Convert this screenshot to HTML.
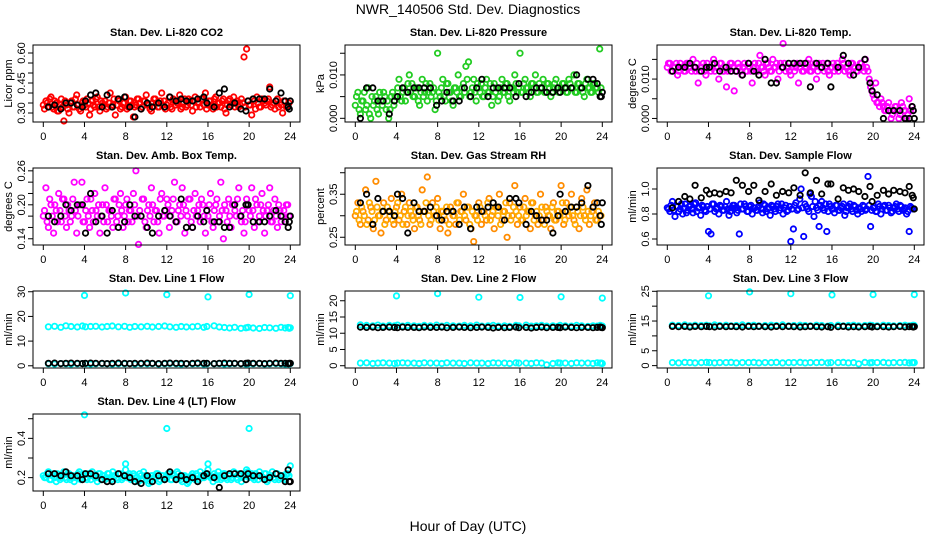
<!DOCTYPE html>
<html><head><meta charset="utf-8">
<style>
html,body{margin:0;padding:0;background:#fff;}
svg{display:block;font-family:"Liberation Sans",sans-serif;}
</style></head>
<body>
<svg id="fig" width="936" height="540" viewBox="0 0 936 540">
<text x="468" y="14" text-anchor="middle" font-size="14">NWR_140506  Std. Dev. Diagnostics</text>
<text x="468" y="531" text-anchor="middle" font-size="14">Hour of Day (UTC)</text>
</svg>
<script>
const hoursC=[0,0.25,0.5,0.75,1,1.25,1.5,1.75,2,2.25,2.5,2.75,3,3.25,3.5,3.75,4,4.25,4.5,4.75,5,5.25,5.5,5.75,6,6.25,6.5,6.75,7,7.25,7.5,7.75,8,8.25,8.5,8.75,9,9.25,9.5,9.75,10,10.25,10.5,10.75,11,11.25,11.5,11.75,12,12.25,12.5,12.75,13,13.25,13.5,13.75,14,14.25,14.5,14.75,15,15.25,15.5,15.75,16,16.25,16.5,16.75,17,17.25,17.5,17.75,18,18.25,18.5,18.75,19,19.25,19.5,19.75,20,20.25,20.5,20.75,21,21.25,21.5,21.75,22,22.25,22.5,22.75,23,23.25,23.5,23.75];
const hoursC2=[0.12,0.37,0.62,0.87,1.12,1.37,1.62,1.87,2.12,2.37,2.62,2.87,3.12,3.37,3.62,3.87,4.12,4.37,4.62,4.87,5.12,5.37,5.62,5.87,6.12,6.37,6.62,6.87,7.12,7.37,7.62,7.87,8.12,8.37,8.62,8.87,9.12,9.37,9.62,9.87,10.12,10.37,10.62,10.87,11.12,11.37,11.62,11.87,12.12,12.37,12.62,12.87,13.12,13.37,13.62,13.87,14.12,14.37,14.62,14.87,15.12,15.37,15.62,15.87,16.12,16.37,16.62,16.87,17.12,17.37,17.62,17.87,18.12,18.37,18.62,18.87,19.12,19.37,19.62,19.87,20.12,20.37,20.62,20.87,21.12,21.37,21.62,21.87,22.12,22.37,22.62,22.87,23.12,23.37,23.62,23.87];
const hoursK=[0.5,1.1,1.7,2.2,2.7,3.3,3.8,4.1,4.6,5.1,5.7,6.2,6.7,7.3,7.9,8.4,8.9,9.5,10.1,10.6,11.2,11.8,12.3,12.9,13.4,13.9,14.5,15.0,15.6,15.9,16.6,17.1,17.6,18.1,18.6,19.2,19.7,19.9,20.4,21.0,21.5,22.0,22.6,23.1,23.5,23.8,23.9,24.0];
const hoursOut=[4,8,12,16,20,24];
const hoursOut4=[4,12,20,8,16,24];

const co2Red=[0.34,0.36,0.33,0.38,0.32,0.35,0.31,0.37,0.26,0.34,0.30,0.36,0.33,0.39,0.32,0.35,0.34,0.37,0.29,0.36,0.33,0.38,0.31,0.35,0.36,0.33,0.40,0.34,0.29,0.37,0.32,0.35,0.38,0.33,0.36,0.28,0.34,0.37,0.32,0.36,0.39,0.34,0.31,0.37,0.35,0.33,0.40,0.36,0.34,0.38,0.32,0.36,0.35,0.39,0.33,0.37,0.34,0.36,0.31,0.38,0.35,0.33,0.37,0.40,0.34,0.36,0.32,0.38,0.35,0.33,0.37,0.30,0.36,0.34,0.38,0.35,0.33,0.37,0.58,0.62,0.34,0.29,0.36,0.38,0.33,0.37,0.35,0.36,0.43,0.34,0.32,0.37,0.35,0.30,0.36,0.33];
const co2Red2=[0.32,0.35,0.37,0.33,0.36,0.31,0.34,0.33,0.36,0.32,0.35,0.33,0.37,0.34,0.31,0.36,0.33,0.35,0.32,0.34,0.37,0.33,0.36,0.34,0.32,0.35,0.33,0.37,0.34,0.36,0.33,0.35,0.32,0.36,0.34,0.33,0.37,0.35,0.33,0.36,0.34,0.32,0.35,0.37,0.33,0.36,0.34,0.32,0.35,0.33,0.37,0.34,0.36,0.32,0.35,0.33,0.37,0.34,0.36,0.33,0.35,0.37,0.34,0.32,0.36,0.34,0.37,0.33,0.35,0.36,0.32,0.34,0.37,0.35,0.33,0.36,0.34,0.35,0.33,0.36,0.34,0.37,0.32,0.35,0.33,0.36,0.34,0.37,0.33,0.35,0.36,0.33,0.34,0.36,0.33,0.35];
const co2Black=[0.33,0.34,0.32,0.35,0.35,0.34,0.33,0.36,0.39,0.40,0.33,0.39,0.33,0.37,0.38,0.33,0.28,0.32,0.35,0.33,0.35,0.33,0.38,0.36,0.37,0.36,0.36,0.37,0.38,0.35,0.33,0.40,0.42,0.33,0.35,0.32,0.31,0.36,0.37,0.37,0.37,0.42,0.36,0.40,0.36,0.33,0.32,0.36];
const presGreen=[0.003,0.006,0.001,0.004,0.002,0.007,0.000,0.003,0.005,0.001,0.004,0.006,0.002,0.000,0.005,0.003,0.005,0.009,0.004,0.007,0.006,0.010,0.008,0.005,0.007,0.003,0.009,0.006,0.004,0.008,0.006,0.002,0.015,0.005,0.009,0.004,0.008,0.006,0.003,0.007,0.010,0.005,0.008,0.012,0.013,0.006,0.009,0.004,0.007,0.008,0.005,0.009,0.006,0.003,0.008,0.007,0.005,0.009,0.006,0.008,0.004,0.007,0.010,0.006,0.015,0.006,0.009,0.007,0.005,0.008,0.010,0.006,0.007,0.009,0.006,0.008,0.005,0.007,0.009,0.006,0.007,0.008,0.006,0.009,0.007,0.010,0.006,0.008,0.007,0.005,0.009,0.007,0.006,0.008,0.007,0.016];
const presGreen2=[0.005,0.002,0.004,0.006,0.003,0.001,0.005,0.004,0.002,0.006,0.003,0.005,0.004,0.002,0.006,0.005,0.007,0.005,0.006,0.004,0.008,0.006,0.005,0.007,0.004,0.006,0.005,0.008,0.006,0.005,0.007,0.004,0.006,0.007,0.005,0.008,0.006,0.004,0.007,0.006,0.005,0.007,0.006,0.009,0.005,0.007,0.006,0.008,0.006,0.005,0.007,0.006,0.008,0.005,0.006,0.004,0.007,0.006,0.008,0.005,0.007,0.006,0.008,0.007,0.006,0.008,0.007,0.006,0.008,0.007,0.006,0.008,0.007,0.006,0.008,0.007,0.006,0.008,0.007,0.006,0.008,0.007,0.006,0.008,0.007,0.006,0.008,0.007,0.006,0.008,0.007,0.006,0.008,0.007,0.006,0.007];
const presBlack=[0.000,0.007,0.007,0.004,0.004,0.001,0.004,0.005,0.007,0.006,0.007,0.007,0.007,0.007,0.003,0.004,0.006,0.004,0.004,0.007,0.005,0.007,0.009,0.005,0.007,0.007,0.007,0.007,0.005,0.008,0.005,0.006,0.007,0.007,0.006,0.006,0.007,0.006,0.007,0.007,0.010,0.007,0.009,0.009,0.008,0.005,0.005,0.006];
const tempMag=[0.013,0.014,0.012,0.013,0.011,0.014,0.013,0.012,0.014,0.013,0.015,0.012,0.009,0.013,0.014,0.011,0.013,0.012,0.015,0.013,0.010,0.014,0.012,0.008,0.013,0.014,0.007,0.012,0.013,0.011,0.014,0.012,0.013,0.009,0.014,0.012,0.016,0.013,0.011,0.014,0.012,0.015,0.013,0.010,0.014,0.019,0.012,0.013,0.011,0.014,0.013,0.009,0.014,0.012,0.013,0.015,0.012,0.013,0.010,0.014,0.013,0.012,0.014,0.011,0.013,0.012,0.014,0.013,0.015,0.012,0.013,0.011,0.014,0.013,0.012,0.014,0.013,0.015,0.012,0.008,0.006,0.009,0.004,0.005,0.003,0.002,0.004,0.000,0.002,0.003,0.000,0.004,0.002,0.000,0.005,0.003];
const tempMag2=[0.014,0.012,0.013,0.014,0.012,0.013,0.012,0.014,0.013,0.012,0.013,0.014,0.012,0.013,0.012,0.014,0.013,0.014,0.012,0.013,0.014,0.012,0.013,0.012,0.014,0.013,0.012,0.014,0.012,0.013,0.012,0.014,0.012,0.013,0.012,0.014,0.013,0.012,0.014,0.013,0.012,0.013,0.014,0.012,0.013,0.014,0.013,0.012,0.013,0.012,0.014,0.013,0.012,0.013,0.014,0.012,0.013,0.014,0.012,0.013,0.014,0.013,0.012,0.013,0.014,0.013,0.012,0.013,0.014,0.013,0.012,0.014,0.013,0.012,0.013,0.014,0.012,0.013,0.010,0.007,0.005,0.004,0.003,0.004,0.002,0.003,0.002,0.001,0.003,0.002,0.001,0.003,0.002,0.001,0.002,0.002];
const tempBlack=[0.012,0.013,0.013,0.014,0.013,0.012,0.013,0.013,0.014,0.012,0.013,0.012,0.012,0.011,0.014,0.012,0.011,0.015,0.009,0.009,0.013,0.014,0.014,0.014,0.014,0.008,0.014,0.013,0.014,0.008,0.013,0.016,0.014,0.011,0.013,0.015,0.009,0.007,0.006,0.000,0.002,0.002,0.002,0.000,0.000,0.003,0.002,0.000];
const boxMag=[0.18,0.23,0.16,0.20,0.15,0.19,0.22,0.17,0.21,0.16,0.19,0.18,0.24,0.15,0.20,0.24,0.17,0.21,0.16,0.19,0.22,0.18,0.15,0.20,0.23,0.17,0.19,0.16,0.21,0.18,0.22,0.16,0.20,0.17,0.19,0.22,0.26,0.13,0.18,0.21,0.16,0.20,0.23,0.17,0.19,0.15,0.22,0.18,0.21,0.16,0.19,0.24,0.17,0.20,0.23,0.15,0.18,0.21,0.16,0.22,0.19,0.17,0.20,0.15,0.18,0.22,0.16,0.20,0.17,0.24,0.14,0.19,0.21,0.16,0.20,0.18,0.23,0.17,0.15,0.21,0.19,0.23,0.16,0.20,0.18,0.22,0.15,0.19,0.23,0.17,0.21,0.16,0.19,0.18,0.17,0.20];
const boxMag2=[0.19,0.17,0.21,0.18,0.20,0.17,0.19,0.21,0.18,0.20,0.17,0.21,0.19,0.18,0.20,0.17,0.19,0.18,0.21,0.17,0.19,0.20,0.18,0.17,0.20,0.19,0.18,0.21,0.17,0.20,0.19,0.18,0.21,0.19,0.17,0.20,0.18,0.19,0.21,0.17,0.19,0.18,0.20,0.19,0.17,0.21,0.18,0.19,0.20,0.18,0.21,0.17,0.19,0.18,0.20,0.19,0.21,0.17,0.19,0.18,0.20,0.21,0.18,0.19,0.20,0.17,0.19,0.21,0.18,0.19,0.20,0.17,0.18,0.20,0.19,0.21,0.18,0.19,0.17,0.20,0.18,0.19,0.21,0.17,0.20,0.19,0.18,0.20,0.17,0.19,0.18,0.20,0.17,0.19,0.20,0.18];
const boxBlack=[0.18,0.17,0.18,0.20,0.19,0.20,0.20,0.15,0.22,0.17,0.18,0.15,0.19,0.16,0.17,0.20,0.18,0.18,0.16,0.15,0.18,0.19,0.18,0.17,0.21,0.16,0.16,0.18,0.17,0.19,0.17,0.17,0.16,0.16,0.20,0.18,0.20,0.20,0.17,0.17,0.17,0.18,0.19,0.18,0.17,0.16,0.17,0.18];
const rhOrange=[0.30,0.33,0.28,0.31,0.36,0.29,0.32,0.27,0.38,0.30,0.26,0.33,0.29,0.31,0.34,0.28,0.32,0.29,0.35,0.31,0.28,0.33,0.30,0.27,0.32,0.29,0.36,0.31,0.39,0.28,0.33,0.30,0.34,0.27,0.31,0.29,0.26,0.32,0.30,0.28,0.33,0.31,0.35,0.29,0.32,0.27,0.24,0.30,0.33,0.28,0.31,0.29,0.34,0.30,0.27,0.32,0.35,0.29,0.31,0.25,0.33,0.30,0.37,0.28,0.32,0.29,0.34,0.31,0.27,0.33,0.30,0.28,0.35,0.29,0.32,0.30,0.27,0.33,0.29,0.31,0.37,0.28,0.33,0.30,0.35,0.29,0.32,0.27,0.34,0.30,0.36,0.28,0.31,0.33,0.29,0.30];
const rhOrange2=[0.31,0.29,0.32,0.30,0.28,0.33,0.31,0.29,0.32,0.30,0.31,0.28,0.32,0.30,0.29,0.31,0.33,0.30,0.28,0.32,0.30,0.31,0.29,0.32,0.30,0.28,0.31,0.33,0.30,0.29,0.31,0.32,0.29,0.31,0.30,0.32,0.28,0.31,0.30,0.33,0.29,0.31,0.30,0.32,0.28,0.31,0.30,0.29,0.32,0.31,0.30,0.33,0.29,0.31,0.32,0.30,0.28,0.31,0.33,0.30,0.29,0.32,0.31,0.30,0.29,0.32,0.30,0.31,0.33,0.29,0.31,0.30,0.32,0.28,0.31,0.30,0.32,0.29,0.31,0.30,0.33,0.29,0.31,0.32,0.30,0.28,0.31,0.30,0.32,0.29,0.31,0.30,0.32,0.29,0.31,0.30];
const rhBlack=[0.33,0.35,0.28,0.34,0.31,0.31,0.30,0.35,0.34,0.26,0.33,0.31,0.31,0.32,0.30,0.29,0.31,0.31,0.28,0.32,0.27,0.32,0.31,0.32,0.33,0.32,0.29,0.34,0.34,0.33,0.28,0.31,0.30,0.29,0.29,0.26,0.30,0.35,0.31,0.32,0.32,0.33,0.37,0.32,0.33,0.30,0.28,0.33];
const flowBlue=[0.85,0.82,0.90,0.78,0.86,0.84,0.80,0.88,0.83,0.87,0.81,0.89,0.85,0.79,0.86,0.82,0.66,0.64,0.88,0.84,0.80,0.86,0.83,0.90,0.79,0.85,0.87,0.81,0.64,0.84,0.88,0.82,0.86,0.80,0.85,0.83,0.89,0.81,0.87,0.84,0.79,0.86,0.82,0.88,0.85,0.80,0.87,0.83,0.58,0.68,0.89,0.84,1.00,0.62,0.86,0.82,0.94,0.78,0.85,0.70,0.90,0.83,0.66,0.88,0.84,0.81,0.87,0.83,0.86,0.79,0.85,0.88,0.82,0.86,0.80,0.84,0.87,0.83,1.10,0.70,0.85,0.82,0.88,0.80,0.86,0.83,0.87,0.81,0.85,0.88,0.82,0.86,0.84,0.80,0.66,0.85];
const flowBlue2=[0.84,0.87,0.83,0.86,0.82,0.88,0.85,0.81,0.86,0.84,0.88,0.82,0.85,0.87,0.83,0.86,0.84,0.88,0.82,0.85,0.87,0.83,0.86,0.84,0.82,0.87,0.85,0.83,0.88,0.84,0.86,0.82,0.87,0.85,0.83,0.86,0.84,0.88,0.82,0.85,0.87,0.84,0.86,0.83,0.88,0.85,0.82,0.86,0.84,0.87,0.83,0.92,0.85,0.88,0.84,0.96,0.86,0.90,0.83,0.87,0.85,0.88,0.82,0.86,0.84,0.87,0.83,0.85,0.88,0.82,0.86,0.84,0.87,0.83,0.85,0.82,0.86,0.84,0.87,0.83,0.85,0.82,0.86,0.84,0.87,0.83,0.85,0.82,0.86,0.84,0.87,0.83,0.85,0.82,0.86,0.84];
const flowBlack=[0.85,0.90,0.94,0.92,1.03,0.93,0.99,0.96,0.97,0.96,0.98,0.97,1.07,1.03,0.98,1.03,0.91,0.98,1.04,0.95,0.98,0.97,1.01,0.95,1.13,0.97,1.07,0.96,1.04,1.04,0.92,1.01,0.99,1.00,0.98,0.94,1.02,0.90,0.95,0.99,0.96,0.99,0.98,0.97,1.02,0.95,0.93,0.84];
const l1Upper=[15.8,16.0,15.6,16.2,15.9,15.7,16.1,15.8,15.9,16.0,15.7,15.9,16.1,15.8,16.0,15.6,15.9,15.8,16.0,15.7,15.9,16.1,15.8,15.6,15.9,15.7,15.8,16.0,15.6,15.9,16.2,15.7,15.5,15.3,15.6,15.2,15.4,15.6,15.3,15.1,15.5,15.4,15.2,15.6,15.3,15.5,15.2,15.4];
const l1Lower=[0.8,0.7,0.9,0.8,0.7,0.8,0.9,0.8,0.7,0.8,0.9,0.8,0.7,0.8,0.8,0.9,0.7,0.8,0.8,0.9,0.7,0.8,0.9,0.8,0.7,0.8,0.8,0.9,0.7,0.8,0.8,0.9,0.7,0.8,0.9,0.8,0.7,0.8,0.8,0.9,0.7,0.8,0.9,0.8,0.7,0.8,0.8,0.9];
const l1Black=[1.0,1.1,0.9,1.0,1.1,1.0,0.9,1.0,1.1,1.0,1.0,0.9,1.0,1.1,1.0,0.9,1.0,1.0,1.1,1.0,0.9,1.0,1.1,1.0,1.0,0.9,1.0,1.1,1.0,1.0,0.9,1.0,1.1,1.0,1.0,0.9,1.0,1.1,1.0,1.0,0.9,1.0,1.1,1.0,1.0,0.9,1.0,1.0];
const l1Out=[28.5,29.5,28.8,27.9,28.9,28.4];
const l2Upper=[12.6,12.4,12.3,12.5,12.2,12.4,12.3,12.5,12.2,12.4,12.3,12.1,12.4,12.3,12.5,12.2,12.4,12.3,12.2,12.4,12.3,12.5,12.2,12.3,12.4,12.2,12.3,12.1,12.4,12.3,12.5,12.2,12.3,12.4,12.2,12.3,12.1,12.4,12.3,12.2,12.4,12.3,12.1,12.3,12.2,12.4,12.3,12.2];
const l2Lower=[0.8,0.9,0.7,0.8,0.9,0.8,0.7,0.8,0.9,0.8,0.8,0.7,0.9,0.8,0.8,0.7,0.9,0.8,0.8,0.7,0.9,0.8,0.8,0.7,0.9,0.8,0.8,0.7,0.9,0.8,0.8,0.7,0.9,0.8,0.3,0.7,0.9,0.8,0.8,0.7,0.9,0.8,0.8,0.7,0.9,0.8,0.8,0.7];
const l2Black=[11.9,11.8,11.9,11.7,11.8,11.9,11.8,11.7,11.9,11.8,11.8,11.7,11.9,11.8,11.8,11.9,11.7,11.8,11.9,11.8,11.7,11.8,11.9,11.8,11.6,11.8,11.7,11.8,11.9,11.7,11.8,11.6,11.8,11.9,11.7,11.8,11.8,11.7,11.9,11.8,11.7,11.8,11.8,11.7,11.8,11.9,11.8,11.7];
const l2Out=[21.5,22.2,21.1,21.0,21.2,20.8];
const l3Upper=[13.6,13.5,13.7,13.4,13.6,13.5,13.6,13.4,13.7,13.5,13.6,13.4,13.5,13.7,13.5,13.6,13.4,13.5,13.6,13.5,13.7,13.4,13.5,13.6,13.5,13.4,13.6,13.5,13.3,13.5,13.6,13.4,13.5,13.6,13.4,13.5,13.6,13.5,13.4,13.6,13.5,13.4,13.5,13.6,13.4,13.5,13.6,13.5];
const l3Lower=[1.0,0.9,1.1,1.0,0.9,1.0,1.1,1.0,0.9,1.0,1.0,1.1,0.9,1.0,1.0,1.1,0.9,1.0,1.0,1.1,0.9,1.0,1.0,1.1,0.9,1.0,1.0,1.1,0.9,1.0,1.0,1.1,0.9,1.0,0.6,1.1,0.9,1.0,1.0,1.1,0.9,1.0,1.0,1.1,0.9,1.0,1.0,1.0];
const l3Black=[13.2,13.1,13.2,13.0,13.2,13.1,13.2,13.1,13.0,13.2,13.1,13.2,13.1,13.0,13.2,13.1,13.2,13.1,13.0,13.2,13.1,13.2,13.1,13.0,13.1,13.2,13.1,13.0,13.1,12.9,13.1,13.2,13.0,13.1,13.0,13.1,13.2,13.0,13.1,13.1,13.0,13.1,13.2,13.0,13.1,13.1,13.0,13.1];
const l3Out=[23.5,24.8,24.2,23.8,23.9,23.9];
const l4Cyan=[0.21,0.20,0.23,0.19,0.22,0.18,0.21,0.20,0.23,0.19,0.22,0.20,0.18,0.21,0.23,0.20,0.22,0.19,0.21,0.23,0.20,0.18,0.22,0.21,0.19,0.22,0.20,0.23,0.21,0.19,0.22,0.20,0.24,0.21,0.19,0.22,0.20,0.18,0.21,0.23,0.19,0.17,0.21,0.20,0.22,0.18,0.21,0.19,0.20,0.22,0.19,0.21,0.23,0.20,0.18,0.21,0.17,0.20,0.22,0.19,0.21,0.23,0.20,0.22,0.24,0.20,0.18,0.21,0.23,0.19,0.22,0.20,0.21,0.19,0.23,0.20,0.22,0.18,0.21,0.24,0.20,0.22,0.19,0.21,0.23,0.20,0.22,0.18,0.21,0.23,0.19,0.22,0.20,0.21,0.19,0.22];
const l4Cyan2=[0.20,0.22,0.19,0.21,0.20,0.22,0.19,0.21,0.20,0.22,0.19,0.21,0.20,0.22,0.19,0.21,0.20,0.22,0.19,0.21,0.20,0.22,0.19,0.21,0.20,0.22,0.19,0.21,0.20,0.22,0.19,0.21,0.20,0.22,0.19,0.21,0.20,0.22,0.19,0.21,0.20,0.18,0.21,0.20,0.22,0.19,0.21,0.20,0.22,0.19,0.21,0.20,0.22,0.19,0.21,0.20,0.18,0.21,0.20,0.22,0.19,0.21,0.20,0.22,0.21,0.20,0.22,0.19,0.21,0.20,0.22,0.19,0.21,0.20,0.22,0.19,0.21,0.20,0.22,0.23,0.21,0.20,0.22,0.19,0.21,0.20,0.22,0.19,0.21,0.20,0.22,0.19,0.21,0.20,0.22,0.21];
const l4Black=[0.22,0.22,0.21,0.23,0.21,0.21,0.19,0.22,0.22,0.21,0.19,0.18,0.18,0.22,0.21,0.20,0.18,0.17,0.21,0.18,0.21,0.19,0.23,0.19,0.21,0.19,0.20,0.18,0.21,0.22,0.20,0.15,0.21,0.22,0.22,0.22,0.19,0.22,0.21,0.21,0.19,0.20,0.22,0.21,0.18,0.24,0.18,0.18];
const l4Out=[0.52,0.45,0.45,0.27,0.27,0.26];
const xTicks=[0,4,8,12,16,20,24];

const panels=[
 {name:'co2',title:'Stan. Dev. Li-820 CO2',ylab:'Licor ppm',lo:0.255,hi:0.64,ticks:[0.30,0.35,0.40,0.45,0.50,0.55,0.60],labels:['0.30','0.45','0.60'],lv:[0.30,0.45,0.60],
  series:[[hoursC,co2Red,'#ff0000'],[hoursC2,co2Red2,'#ff0000'],[hoursK,co2Black,'#000']]},
 {name:'pressure',title:'Stan. Dev. Li-820 Pressure',ylab:'kPa',lo:-0.00085,hi:0.0169,ticks:[0,0.005,0.010,0.015],labels:['0.000','0.010'],lv:[0,0.010],
  series:[[hoursC,presGreen,'#22cc22'],[hoursC2,presGreen2,'#22cc22'],[hoursK,presBlack,'#000']]},
 {name:'temp',title:'Stan. Dev. Li-820 Temp.',ylab:'degrees C',lo:-0.0009,hi:0.01865,ticks:[0,0.005,0.010,0.015],labels:['0.000','0.010'],lv:[0,0.010],
  series:[[hoursC,tempMag,'#ff00ff'],[hoursC2,tempMag2,'#ff00ff'],[hoursK,tempBlack,'#000']]},
 {name:'amb-box-temp',title:'Stan. Dev. Amb. Box Temp.',ylab:'degrees C',lo:0.129,hi:0.265,ticks:[0.14,0.16,0.18,0.20,0.22,0.24,0.26],labels:['0.14','0.20','0.26'],lv:[0.14,0.20,0.26],
  series:[[hoursC,boxMag,'#ff00ff'],[hoursC2,boxMag2,'#ff00ff'],[hoursK,boxBlack,'#000']]},
 {name:'gas-rh',title:'Stan. Dev. Gas Stream RH',ylab:'percent',lo:0.232,hi:0.411,ticks:[0.25,0.30,0.35,0.40],labels:['0.25','0.35'],lv:[0.25,0.35],
  series:[[hoursC,rhOrange,'#ff8c00'],[hoursC2,rhOrange2,'#ffaa00'],[hoursK,rhBlack,'#000']]},
 {name:'sample-flow',title:'Stan. Dev. Sample Flow',ylab:'ml/min',lo:0.552,hi:1.168,ticks:[0.6,0.8,1.0],labels:['0.6','0.8','1.0'],lv:[0.6,0.8,1.0],
  series:[[hoursC,flowBlue,'#0000ff'],[hoursC2,flowBlue2,'#0000ff'],[hoursK,flowBlack,'#000']]},
 {name:'line1-flow',title:'Stan. Dev. Line 1 Flow',ylab:'ml/min',lo:-0.9,hi:30.3,ticks:[0,10,20,30],labels:['0','10','20','30'],lv:[0,10,20,30],
  series:[[hoursK,l1Upper,'#00ffff'],[hoursK,l1Lower,'#00ffff'],[hoursOut,l1Out,'#00ffff'],[hoursK,l1Black,'#000']]},
 {name:'line2-flow',title:'Stan. Dev. Line 2 Flow',ylab:'ml/min',lo:-0.7,hi:23,ticks:[0,5,10,15,20],labels:['0','5','10','15','20'],lv:[0,5,10,15,20],
  series:[[hoursK,l2Upper,'#00ffff'],[hoursK,l2Lower,'#00ffff'],[hoursOut,l2Out,'#00ffff'],[hoursK,l2Black,'#000']]},
 {name:'line3-flow',title:'Stan. Dev. Line 3 Flow',ylab:'ml/min',lo:-0.8,hi:25.1,ticks:[0,5,10,15,20,25],labels:['0','5','15','25'],lv:[0,5,15,25],
  series:[[hoursK,l3Upper,'#00ffff'],[hoursK,l3Lower,'#00ffff'],[hoursOut,l3Out,'#00ffff'],[hoursK,l3Black,'#000']]},
 {name:'line4-flow',title:'Stan. Dev. Line 4 (LT) Flow',ylab:'ml/min',lo:0.132,hi:0.524,ticks:[0.2,0.3,0.4,0.5],labels:['0.2','0.4'],lv:[0.2,0.4],
  series:[[hoursC,l4Cyan,'#00ffff'],[hoursC2,l4Cyan2,'#00ffff'],[hoursOut4,l4Out,'#00ffff'],[hoursK,l4Black,'#000']]}
];

const NS='http://www.w3.org/2000/svg';
const svg=document.getElementById('fig');
function mk(tag,attrs,parent){const e=document.createElementNS(NS,tag);for(const k in attrs)e.setAttribute(k,attrs[k]);parent.appendChild(e);return e;}

panels.forEach((p,i)=>{
  const col=i%3,row=Math.floor(i/3);
  const L=33+312*col,R=L+267,T=45+123*row,B=T+77;
  const xs=h=>L+10.3+h*(247/24);
  const ys=v=>B-(v-p.lo)/(p.hi-p.lo)*(B-T);
  const g=mk('g',{},svg);
  
  
  const t=mk('text',{x:(L+R)/2,y:T-9,'text-anchor':'middle','font-size':'11','font-weight':'bold'},g);
  t.textContent=p.title;
  
  
  const yl=mk('text',{x:0,y:0,'text-anchor':'middle','font-size':'11',transform:`translate(${L-21},${(T+B)/2}) rotate(-90)`},g);
  yl.textContent=p.ylab;
  
  
  const pg=mk('g',{fill:'none','stroke-width':'1.8'},g);
  
  
  p.series.forEach(s=>{
    const hs=s[0],vs=s[1],c=s[2];
    const n=Math.min(hs.length,vs.length);
    for(let k=0;k<n;k++){
      const ci=mk('circle',{cx:xs(hs[k]).toFixed(1),cy:ys(vs[k]).toFixed(1),r:'2.7',stroke:c},pg);
      
      
    }
  });
  const box=mk('rect',{x:L,y:T,width:R-L,height:B-T,fill:'none',stroke:'#000','stroke-width':'1'},g);
  
  
  xTicks.forEach(h=>{
    mk('line',{x1:xs(h),x2:xs(h),y1:B,y2:B+5,stroke:'#000'},g);
    const tl=mk('text',{x:xs(h),y:B+18,'text-anchor':'middle','font-size':'11'},g);
    tl.textContent=h;
    
    
  });
  p.ticks.forEach(v=>{mk('line',{x1:L-5,x2:L,y1:ys(v),y2:ys(v),stroke:'#000'},g);});
  p.labels.forEach((lab,k)=>{
    const yt=mk('text',{x:0,y:0,'text-anchor':'middle','font-size':'11',transform:`translate(${L-8},${ys(p.lv[k])}) rotate(-90)`},g);
    yt.textContent=lab;
    
    
  });
});
</script>
</body></html>
